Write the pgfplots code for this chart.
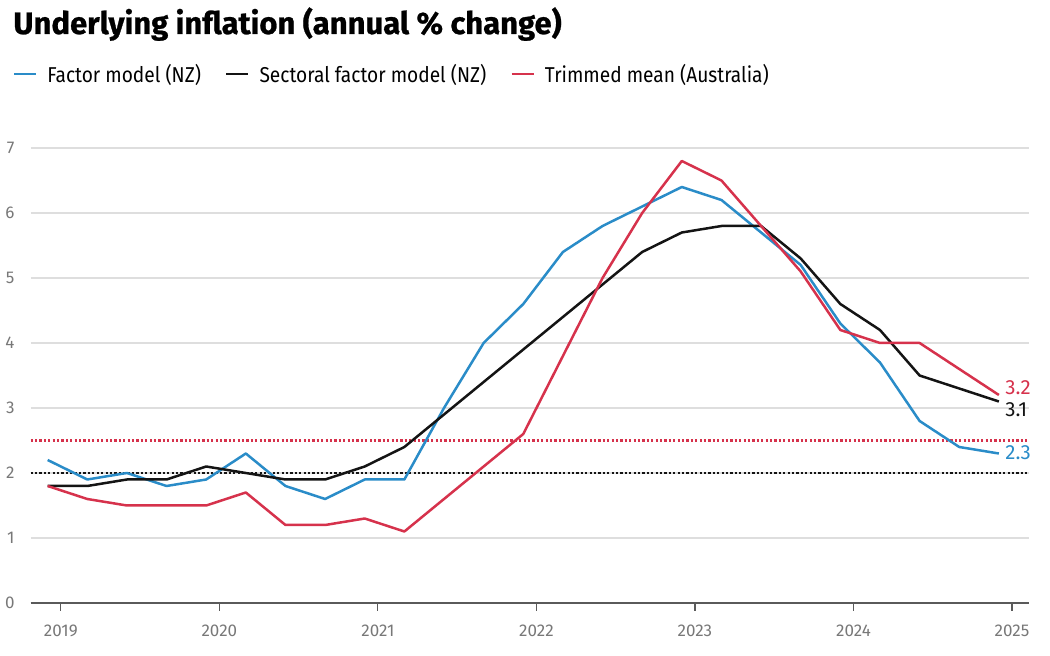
\documentclass[border=0pt]{standalone}
\usepackage{pgfplots}
\pgfplotsset{compat=1.18}
\usepackage{pgfplotstable}
\usepackage{fontspec}
\setmainfont{Fira Sans}
\newfontfamily\titlefont[BoldFeatures={FakeBold=0.8}]{Fira Sans}
\newfontfamily\legfont[FakeStretch=0.89]{Fira Sans}
\definecolor{cblue}{RGB}{42,140,200}
\definecolor{cred}{RGB}{214,50,76}
\definecolor{cblack}{RGB}{20,20,20}
\definecolor{gridgray}{RGB}{222,222,222}
\definecolor{axisgray}{RGB}{90,90,90}
\definecolor{tickgray}{RGB}{120,120,120}

\pgfplotstableread{
x        blue black red
2018.917 2.2 1.8 1.8
2019.167 1.9 1.8 1.6
2019.417 2.0 1.9 1.5
2019.667 1.8 1.9 1.5
2019.917 1.9 2.1 1.5
2020.167 2.3 2.0 1.7
2020.417 1.8 1.9 1.2
2020.667 1.6 1.9 1.2
2020.917 1.9 2.1 1.3
2021.167 1.9 2.4 1.1
2021.417 3.0 2.9 1.6
2021.667 4.0 3.4 2.1
2021.917 4.6 3.9 2.6
2022.167 5.4 4.4 3.8
2022.417 5.8 4.9 5.0
2022.667 6.1 5.4 6.0
2022.917 6.4 5.7 6.8
2023.167 6.2 5.8 6.5
2023.417 5.7 5.8 5.8
2023.667 5.2 5.3 5.1
2023.917 4.3 4.6 4.2
2024.167 3.7 4.2 4.0
2024.417 2.8 3.5 4.0
2024.667 2.4 3.3 3.6
2024.917 2.3 3.1 3.2
}\datatable

\begin{document}
\begin{tikzpicture}
\useasboundingbox (-30.7pt,-53pt) rectangle (1019.3pt,603pt);
\begin{axis}[
  at={(0pt,0pt)}, anchor=south west,
  scale only axis,
  width=998.3pt, height=455pt,
  xmin=2018.81, xmax=2025.107,
  ymin=0, ymax=7,
  clip=false,
  axis line style={draw=none},
  xtick={2019,2020,2021,2022,2023,2024,2025},
  ytick={0,1,2,3,4,5,6,7},
  xtick pos=bottom,
  ytick style={draw=none},
  xtick style={color=axisgray, line width=1.2pt},
  tick align=outside,
  major tick length=8pt,
  ymajorgrids,
  major grid style={color=gridgray, line width=1.2pt},
  /pgf/number format/assume math mode=true,
  /pgf/number format/1000 sep={},
  ticklabel style={font=\fontsize{17}{19}\selectfont, text=tickgray, inner sep=0pt},
  yticklabel style={anchor=east, xshift=-8pt},
  xticklabel style={anchor=north, yshift=-14pt},
  extra y ticks={0},
  extra y tick labels={},
  extra y tick style={major grid style={color=axisgray, line width=1.3pt}},
  legend columns=3,
  legend cell align=left,
  legend style={
    at={(-0.018,1.1626)}, anchor=west,
    draw=none, fill=none, inner sep=0pt, outer sep=0pt,
    font=\legfont\fontsize{21.5}{25}\selectfont,
    nodes={inner sep=0pt},
    /tikz/every odd column/.append style={column sep=10pt},
    /tikz/every even column/.append style={column sep=24pt},
  },
  legend image code/.code={\draw[#1, line width=2.6pt] (0pt,0pt) -- (22pt,0pt);},
]
\addplot[forget plot, cred, line width=2.5pt, dash pattern=on 2.2pt off 2.2pt] coordinates {(2018.81,2.5) (2025.107,2.5)};
\addplot[forget plot, cblack, line width=2.5pt, dash pattern=on 2.2pt off 2.2pt] coordinates {(2018.81,2) (2025.107,2)};
\addplot[cblue, line width=2.5pt, line join=round] table[x=x, y=blue] {\datatable};
\addlegendentry{Factor model (NZ)}
\addplot[cblack, line width=2.5pt, line join=round] table[x=x, y=black] {\datatable};
\addlegendentry{Sectoral factor model (NZ)}
\addplot[cred, line width=2.5pt, line join=round] table[x=x, y=red] {\datatable};
\addlegendentry{Trimmed mean (Australia)}
\node[anchor=west, inner sep=0pt, xshift=6.3pt, text=cred, font=\fontsize{20.5}{24}\selectfont] at (axis cs:2024.917,3.32) {3.2};
\node[anchor=west, inner sep=0pt, xshift=6.3pt, text=cblack, font=\fontsize{20.5}{24}\selectfont] at (axis cs:2024.917,2.97) {3.1};
\node[anchor=west, inner sep=0pt, xshift=6.3pt, text=cblue, font=\fontsize{20.5}{24}\selectfont] at (axis cs:2024.917,2.31) {2.3};
\end{axis}
\node[anchor=base west, inner sep=0pt, font=\titlefont\bfseries\fontsize{31}{36}\selectfont] at (-17.5pt,569pt) {Underlying inflation (annual \% change)};
\end{tikzpicture}
\end{document}
